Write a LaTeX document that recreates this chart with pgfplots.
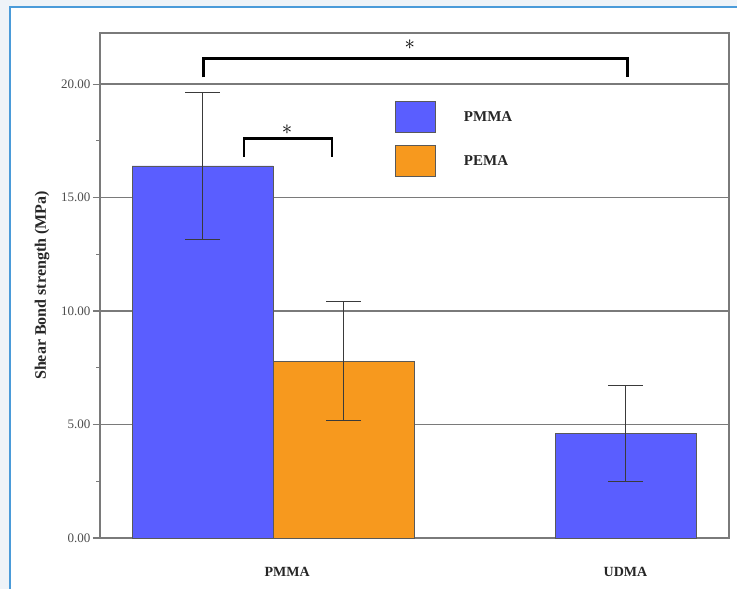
\documentclass[border=0pt]{standalone}
\usepackage{pgfplots}
\pgfplotsset{compat=1.18}
\usepackage{fontspec}
\setmainfont{Liberation Serif}
\definecolor{bgc}{HTML}{EEF3F8}
\definecolor{frameblue}{HTML}{4A9BD9}
\definecolor{barblue}{HTML}{5A5EFF}
\definecolor{barorange}{HTML}{F7991E}
\definecolor{axgray}{HTML}{7A7A7A}
\definecolor{ebgray}{HTML}{3A3A3A}
\begin{document}
\begin{tikzpicture}
\useasboundingbox (-100pt,-51pt) rectangle (637pt,538pt);
\fill[bgc] (-100pt,-51pt) rectangle (637pt,538pt);
\draw[frameblue, line width=2pt, fill=white] (-90pt,-70pt) rectangle (660pt,531pt);
\begin{axis}[
  at={(0pt,0pt)}, anchor=south west,
  scale only axis, width=629pt, height=505pt,
  xmin=-0.727, xmax=3.734, ymin=0, ymax=22.25,
  axis line style={axgray, line width=1.2pt},
  xtick={0.6,3}, xticklabels={PMMA,UDMA},
  x tick style={draw=none},
  xticklabel style={anchor=center, yshift=-27pt, font=\bfseries\fontsize{14}{16}\selectfont, text=black!85},
  ytick={0,5,10,15,20},
  minor y tick num=1,
  tick align=outside,
  y tick style={axgray, line width=1.1pt},
  major tick length=7pt, minor tick length=3.5pt,
  xtick pos=bottom, ytick pos=left,
  yticklabel style={/pgf/number format/.cd, fixed, fixed zerofill, precision=2, assume math mode=true, /tikz/.cd, font=\fontsize{13}{14}\selectfont, text=black!70, xshift=1pt},
  ymajorgrids, grid style={axgray, line width=1.2pt},
  ylabel={Shear Bond strength (MPa)},
  every axis y label/.style={at={(axis description cs:-0.0922,0.5)}, rotate=90, anchor=center, font=\bfseries\fontsize{16}{18}\selectfont, text=black!85},
  clip=false,
  legend style={at={(axis cs:1.365,19.25)}, anchor=north west, draw=none, fill=none, inner sep=0pt,
    nodes={inner sep=0pt}, row sep=12pt, cells={anchor=west},
    font=\bfseries\fontsize{15}{17}\selectfont, text=black!85},
  legend image code/.code={\draw[#1] (0pt,-15.5pt) rectangle (40pt,15.5pt);},
  /tikz/every odd column/.append style={column sep=28pt},
]
\addplot[ybar, bar width=1, bar shift=0pt, fill=barblue, draw=black!65, line width=0.8pt,
  error bars/.cd, y dir=both, y explicit,
  error bar style={ebgray, line width=1pt},
  error mark options={rotate=90, mark size=17.5pt, ebgray, line width=1pt}]
  coordinates {(0,16.39) +- (0,3.22) (3,4.61) +- (0,2.13)};
\addlegendentry{PMMA}
\addplot[ybar, bar width=1, bar shift=0pt, fill=barorange, draw=black!65, line width=0.8pt,
  error bars/.cd, y dir=both, y explicit,
  error bar style={ebgray, line width=1pt},
  error mark options={rotate=90, mark size=17.5pt, ebgray, line width=1pt}]
  coordinates {(1,7.80) +- (0,2.64)};
\addlegendentry{PEMA}
\addplot[forget plot, black, line width=2.8pt, no marks] coordinates {(0.005,20.3) (0.005,21.13) (3.015,21.13) (3.015,20.3)};
\addplot[forget plot, black, line width=2.8pt, no marks] coordinates {(0.294,16.8) (0.294,17.6) (0.918,17.6) (0.918,16.8)};
\node at (axis cs:1.47,21.75) {\fontsize{22}{22}\selectfont$\ast$};
\node at (axis cs:0.6,18.0) {\fontsize{22}{22}\selectfont$\ast$};
\end{axis}
\end{tikzpicture}
\end{document}
